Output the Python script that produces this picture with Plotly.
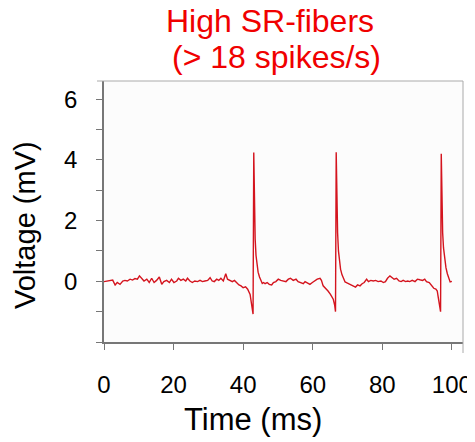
import plotly.graph_objects as go

time_ms = [
    0.0, 0.8, 1.7, 2.5, 3.2, 3.8, 4.6, 5.4, 6.0, 6.7, 7.5, 8.2, 8.9, 9.6, 10.2,
    10.8, 11.5, 12.3, 13.0, 13.7, 14.4, 15.1, 15.9, 16.6, 17.2, 18.0, 18.8, 19.4,
    20.1, 20.9, 21.4, 22.1, 22.8, 23.5, 24.0, 24.7, 25.4, 26.1, 26.9, 27.6, 28.3,
    29.0, 29.8, 30.5, 31.1, 31.7, 32.4, 33.0, 33.6, 34.3, 35.0, 35.5, 36.2, 36.9,
    37.5, 38.1, 38.8, 39.4, 40.0, 40.7, 41.3, 42.0, 42.4, 42.85,
    43.05, 43.25, 43.45, 43.7, 43.95, 44.3, 44.7, 45.1, 45.5, 45.9,
    46.3, 46.9, 47.5, 48.2, 48.7, 49.4, 50.1, 50.8, 51.5, 52.3, 53.0, 53.6, 54.4,
    55.2, 55.8, 56.5, 57.3, 57.8, 58.4, 59.2, 59.9, 60.6, 61.3, 62.1, 62.5, 63.0,
    63.8, 64.4, 65.1, 65.9, 66.3, 66.55,
    66.75, 66.95, 67.15, 67.4, 67.7, 68.0, 68.4, 68.8, 69.3, 69.7,
    70.4, 71.0, 71.6, 72.3, 72.9, 73.6, 74.2, 74.8, 75.5, 76.0, 76.7, 77.4, 78.1,
    78.8, 79.6, 80.3, 80.9, 81.5, 82.2, 82.9, 83.4, 84.1, 84.8, 85.4, 86.0, 86.7,
    87.3, 87.9, 88.6, 89.4, 90.1, 90.8, 91.6, 92.2, 92.7, 93.5, 94.2, 94.8, 95.4,
    95.8, 96.1, 96.4, 96.75,
    96.95, 97.15, 97.35, 97.6, 97.9, 98.3, 98.7, 99.1, 99.5, 100.0,
]
voltage_mv = [
    -0.01, 0.01, 0.01, 0.04, -0.12, -0.04, -0.10, 0.01, 0.03, 0.01, 0.07, 0.04, 0.09, 0.07, 0.18,
    0.10, 0.01, 0.07, -0.04, 0.10, -0.04, 0.03, 0.14, -0.10, -0.01, 0.03, -0.04, 0.07,
    -0.04, 0.01, 0.10, 0.03, 0.07, 0.01, 0.10, 0.01, -0.04, 0.01, -0.01, 0.03, -0.01,
    0.01, 0.03, 0.12, 0.01, -0.01, 0.07, 0.03, 0.10, 0.01, 0.25, 0.07, 0.03, -0.01,
    0.03, -0.04, -0.12, -0.15, -0.21, -0.18, -0.26, -0.43, -0.70, -1.08,
    4.24, 2.30, 1.40, 0.85, 0.52, 0.30, 0.14, 0.00, -0.07, -0.04,
    -0.08, -0.04, -0.10, -0.12, -0.04, -0.01, 0.07, 0.03, 0.01, -0.01, 0.07, 0.10, 0.03,
    0.07, -0.01, -0.04, -0.08, -0.01, -0.04, -0.10, -0.04, 0.03, 0.07, 0.10, 0.03, -0.15,
    -0.23, -0.32, -0.43, -0.59, -0.78, -1.00,
    4.25, 2.50, 1.60, 1.00, 0.62, 0.40, 0.22, 0.10, -0.02, -0.04,
    -0.08, -0.12, -0.15, -0.19, -0.12, -0.15, -0.08, -0.04, 0.07, -0.01, 0.03, 0.01, 0.03,
    -0.01, 0.01, -0.04, -0.01, 0.10, 0.18, 0.12, 0.07, 0.10, 0.01, -0.01, 0.03, -0.01,
    0.01, -0.01, 0.03, -0.01, 0.07, 0.05, 0.03, 0.07, -0.01, -0.04, -0.15, -0.23, -0.26,
    -0.32, -0.54, -0.76, -1.00,
    4.20, 2.50, 1.60, 1.10, 0.75, 0.45, 0.25, 0.10, -0.02, 0.00,
]

x_ticks = [0, 20, 40, 60, 80, 100]
y_ticks = [0, 2, 4, 6]

FONT = "Arial, Liberation Sans, sans-serif"
OFF = 8  # page body margin the browser adds around the figure
W, H = 475 - OFF, 442 - OFF
L, R, T, B = 104 - OFF, 12, 81 - OFF, 100


def px(x):
    # page pixel -> paper x
    return (x - OFF - L) / (W - L - R)


def py(y):
    # page pixel -> paper y
    return (H - B - (y - OFF)) / (H - T - B)


fig = go.Figure()
fig.add_trace(go.Scatter(
    x=time_ms, y=voltage_mv, mode="lines",
    line=dict(color="#d4141e", width=1.4),
    showlegend=False, hoverinfo="skip",
))

fig.update_layout(
    width=W, height=H,
    margin=dict(l=L, r=R, t=T, b=B, pad=0),
    paper_bgcolor="white", plot_bgcolor="#fcfcfc",
    font=dict(family=FONT, color="black"),
    xaxis=dict(
        range=[0, 103.2], tickvals=x_ticks, ticks="outside", ticklen=6,
        tickcolor="#777", showline=True, linecolor="#777", linewidth=1.5,
        showgrid=False, zeroline=False, tickfont=dict(size=24),
        ticklabelstandoff=14, automargin=False,
    ),
    yaxis=dict(
        range=[-2, 6.6], tickvals=y_ticks, ticks="outside", ticklen=6,
        tickcolor="#777", showline=True, linecolor="#777", linewidth=1.5,
        showgrid=False, zeroline=False, tickfont=dict(size=24),
        ticklabelstandoff=14, automargin=False,
        minor=dict(dtick=1, ticks="outside", ticklen=6, tickcolor="#777", showgrid=False),
    ),
)

# light frame on top and right
fig.add_shape(type="line", xref="paper", yref="paper", x0=px(97), x1=1, y0=1, y1=1,
              line=dict(color="#aaa", width=1))
fig.add_shape(type="line", xref="paper", yref="paper", x0=1, x1=1, y0=py(353), y1=1,
              line=dict(color="#aaa", width=1))

# title lines
fig.add_annotation(x=px(270), y=py(21), xref="paper", yref="paper", showarrow=False,
                   text="High SR-fibers", font=dict(size=32, color="#f00000"),
                   xanchor="center", yanchor="middle")
fig.add_annotation(x=px(276), y=py(57), xref="paper", yref="paper", showarrow=False,
                   text="(> 18 spikes/s)", font=dict(size=32, color="#f00000"),
                   xanchor="center", yanchor="middle")

# axis titles
fig.add_annotation(x=px(253), y=py(419), xref="paper", yref="paper", showarrow=False,
                   text="Time (ms)", font=dict(size=31),
                   xanchor="center", yanchor="middle")
fig.add_annotation(x=px(25), y=py(225), xref="paper", yref="paper", showarrow=False,
                   text="Voltage (mV)", font=dict(size=29), textangle=-90,
                   xanchor="center", yanchor="middle")

fig.write_html("out.html")
